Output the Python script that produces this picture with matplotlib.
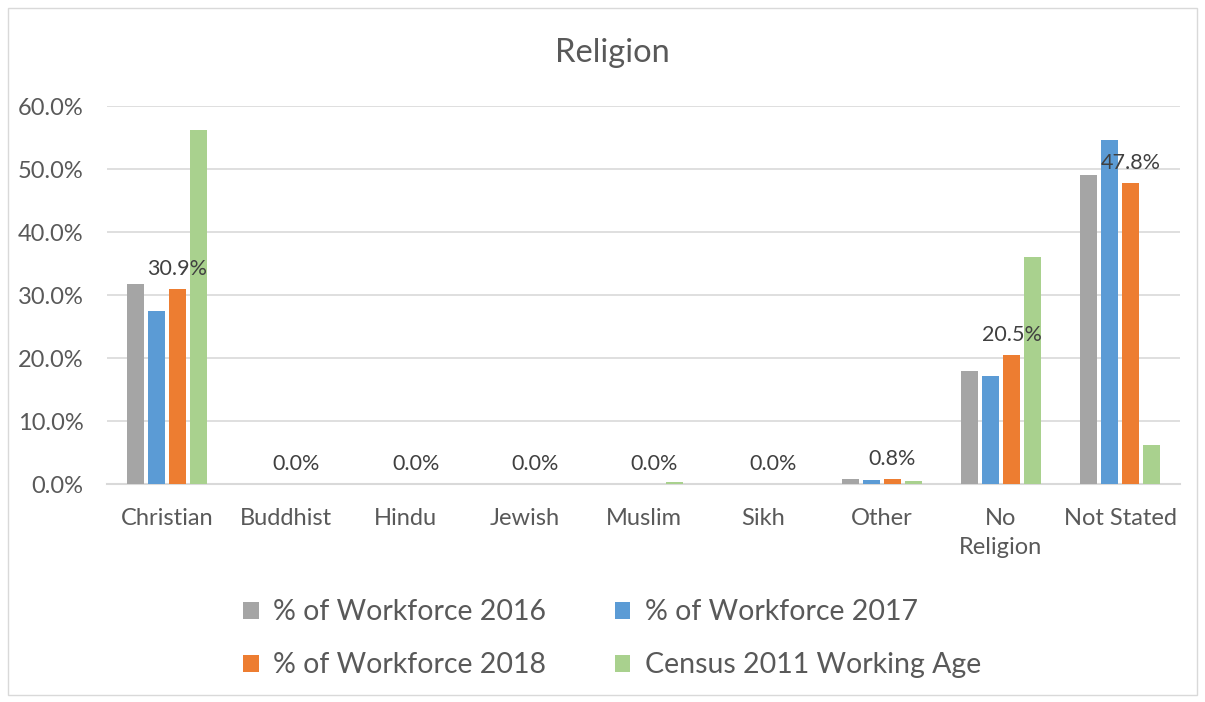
import matplotlib
matplotlib.use("Agg")
import matplotlib.pyplot as plt
import numpy as np
from matplotlib.patches import Rectangle

plt.rcParams['font.family'] = ['Lato', 'DejaVu Sans']

categories = ["Christian", "Buddhist", "Hindu", "Jewish", "Muslim", "Sikh", "Other", "No\nReligion", "Not Stated"]
series_names = ["% of Workforce 2016", "% of Workforce 2017", "% of Workforce 2018", "Census 2011 Working Age"]
wf2016 = [31.7, 0.0, 0.0, 0.0, 0.0, 0.0, 0.8, 17.9, 49.1]
wf2017 = [27.5, 0.0, 0.0, 0.0, 0.0, 0.0, 0.6, 17.2, 54.6]
wf2018 = [30.9, 0.0, 0.0, 0.0, 0.0, 0.0, 0.8, 20.5, 47.8]
census2011 = [56.2, 0.0, 0.0, 0.0, 0.3, 0.0, 0.5, 36.0, 6.2]
colors = ["#A5A5A5", "#5B9BD5", "#ED7D31", "#A9D18E"]

fig = plt.figure(figsize=(12.05, 7.02), dpi=100)
fig.patches.append(Rectangle((0.007, 0.01), 0.986, 0.978, transform=fig.transFigure,
                             fill=False, edgecolor="#D9D9D9", linewidth=1))
ax = fig.add_axes([0.089, 0.3105, 0.89, 0.5385])

x = np.arange(len(categories))
bw = 0.143
step = 0.176
all_series = [wf2016, wf2017, wf2018, census2011]
handles = []
for i, (vals, c, name) in enumerate(zip(all_series, colors, series_names)):
    off = (i - 1.5) * step
    bars = ax.bar(x + off, vals, width=bw, color=c, label=name, zorder=3)
    handles.append(bars)
    if i == 2:
        for xi, v in zip(x + off, vals):
            ax.text(xi, v + 1.6, f"{v:.1f}%", ha="center", va="bottom",
                    fontsize=15.5, color="#404040", zorder=4)

ax.set_xlim(-0.5, len(categories) - 0.5)
ax.set_ylim(0, 60)
ax.set_yticks(np.arange(0, 61, 10))
ax.set_yticklabels([f"{v:.1f}%" for v in np.arange(0, 61, 10)])
ax.set_xticks(x)
ax.set_xticklabels(categories, linespacing=1.5)
ax.tick_params(axis="both", length=0, labelsize=17, colors="#595959")
ax.tick_params(axis="x", pad=17)
ax.tick_params(axis="y", pad=17)
ax.grid(axis="y", color="#D9D9D9", linewidth=1.2, zorder=0)
for s in ["top", "right", "left"]:
    ax.spines[s].set_visible(False)
ax.spines["bottom"].set_color("#D9D9D9")
ax.spines["bottom"].set_linewidth(1.5)

fig.text(0.508, 0.925, "Religion", ha="center", va="center", fontsize=23.5, color="#595959")

order = [0, 2, 1, 3]
leg = fig.legend([handles[k] for k in order], [series_names[k] for k in order],
                 loc="center", bbox_to_anchor=(0.508, 0.09), ncol=2,
                 frameon=False, fontsize=20.5,
                 handlelength=0.55, handleheight=0.55, handletextpad=0.5,
                 columnspacing=2.4, labelspacing=0.95)
for t in leg.get_texts():
    t.set_color("#595959")

fig.savefig("out.png", dpi=100)
